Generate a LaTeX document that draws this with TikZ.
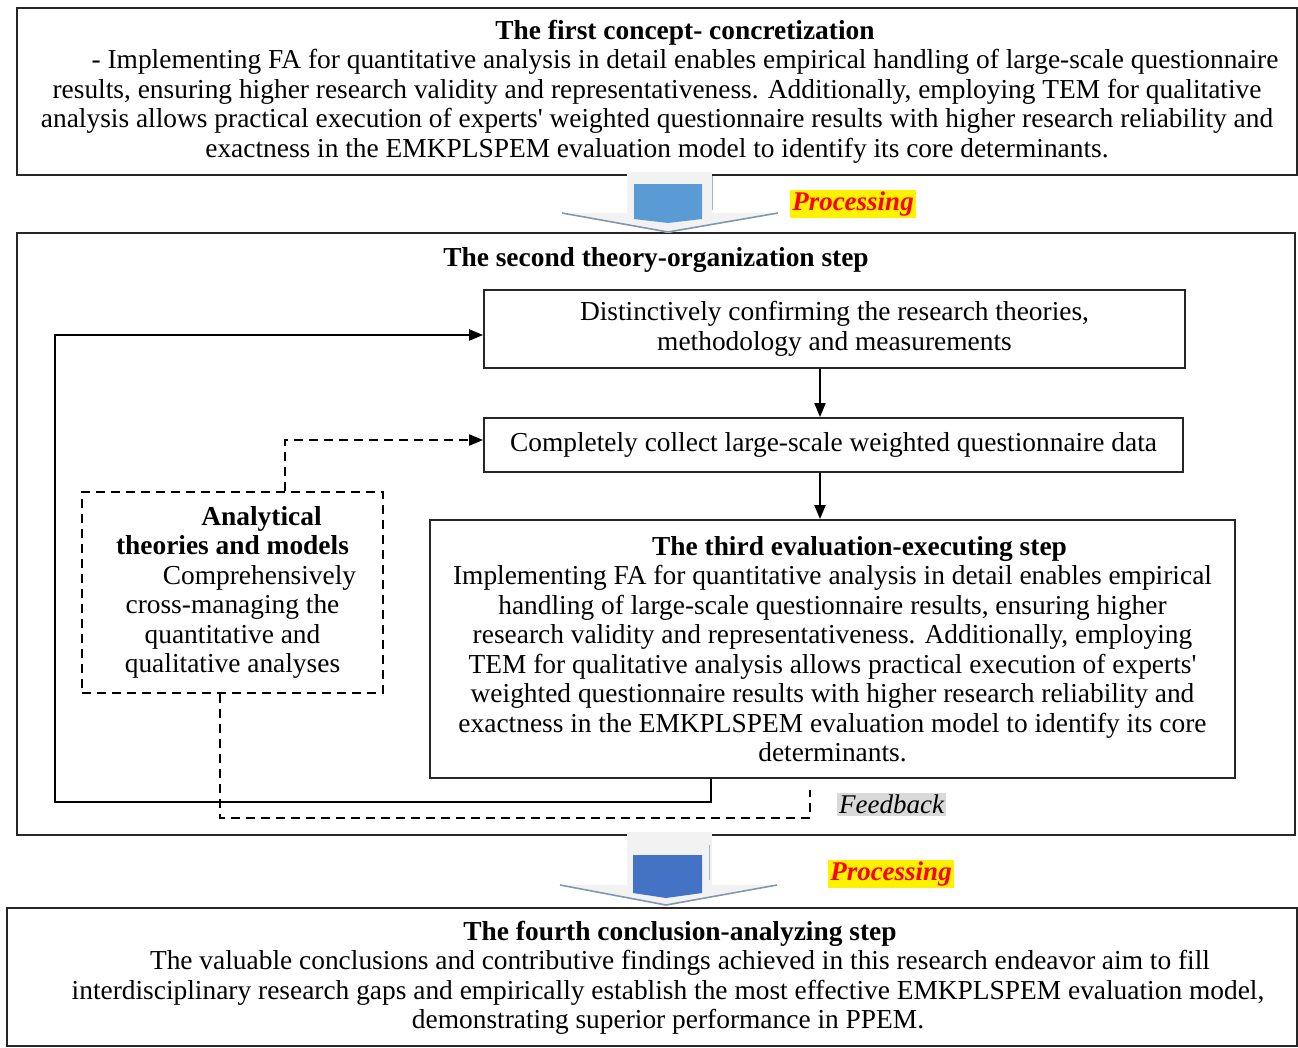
\documentclass[tikz,border=0pt]{standalone}
\usepackage{fontspec}
\setmainfont{Liberation Serif}
\usetikzlibrary{arrows.meta,calc}
\definecolor{blueA}{HTML}{5B9BD5}
\definecolor{blueB}{HTML}{4472C4}
\definecolor{wingc}{HTML}{8497B0}
\definecolor{shaftc}{HTML}{F2F2F2}
\definecolor{fbgray}{HTML}{D9D9D9}
\begin{document}
\begin{tikzpicture}[x=1pt,y=-1pt,
  every node/.style={font=\fontsize{27.4}{29.5}\selectfont, inner sep=0pt, text=black},
  box/.style={draw=black!85, line width=1.8pt, rectangle},
  dbox/.style={draw=black, line width=2pt, dash pattern=on 9pt off 6pt, rectangle},
  conn/.style={line width=2pt, -{Triangle[length=14pt,width=11pt]}},
  dconn/.style={line width=2pt, dash pattern=on 9pt off 6pt, -{Triangle[length=14pt,width=11pt]}},
  dline/.style={line width=2pt, dash pattern=on 9pt off 6pt},
  proc/.style={fill=yellow, text=red, inner sep=2pt, font=\fontsize{27}{29.5}\selectfont\bfseries\itshape},
  fbl/.style={fill=fbgray, inner sep=2pt, font=\fontsize{27}{29.5}\selectfont\itshape},
]
\useasboundingbox[fill=white] (0,0) rectangle (1298,1047);

% first box
\node[box, minimum width=1280pt, minimum height=167pt, align=center] (first) at (657,91.5)
 {\hspace*{56pt}\textbf{The first concept- concretization}\\
  \hspace*{56pt}- Implementing FA for quantitative analysis in detail enables empirical handling of large-scale questionnaire\\
  results, ensuring higher research validity and representativeness. Additionally, employing TEM for qualitative\\
  analysis allows practical execution of experts\textquotesingle{} weighted questionnaire results with higher research reliability and\\
  exactness in the EMKPLSPEM evaluation model to identify its core determinants.};

% second big box
\node[box, minimum width=1278pt, minimum height=602pt] (second) at (656,534) {};
\node[font=\fontsize{27.4}{29.5}\selectfont\bfseries] (secondtitle) at (656,260) {The second theory-organization step};

\node[box, minimum width=701pt, minimum height=78pt, align=center] (dist) at (834.5,329)
 {Distinctively confirming the research theories,\\ methodology and measurements};

\node[box, minimum width=699pt, minimum height=54pt] (collect) at (833.5,445)
 {Completely collect large-scale weighted questionnaire data};

\node[box, minimum width=805pt, minimum height=258pt, align=center] (third) at (832.5,649)
 {\hspace*{54pt}\textbf{The third evaluation-executing step}\\
  Implementing FA for quantitative analysis in detail enables empirical\\
  handling of large-scale questionnaire results, ensuring higher\\
  research validity and representativeness. Additionally, employing\\
  TEM for qualitative analysis allows practical execution of experts\textquotesingle\\
  weighted questionnaire results with higher research reliability and\\
  exactness in the EMKPLSPEM evaluation model to identify its core\\
  determinants.};

\node[dbox, minimum width=301pt, minimum height=201pt, align=center] (ana) at (232.5,592.5)
 {\hspace*{58pt}\textbf{Analytical}\\
  \textbf{theories and models}\\
  \hspace*{54pt}Comprehensively\\
  cross-managing the\\
  quantitative and\\
  qualitative analyses};

% fourth box
\node[box, minimum width=1290pt, minimum height=138pt] (fourth) at (652,977) {};
\node[align=center] (fourthtext) at (668,978)
 {\hspace*{24pt}\textbf{The fourth conclusion-analyzing step}\\
  \hspace*{24pt}The valuable conclusions and contributive findings achieved in this research endeavor aim to fill\\
  interdisciplinary research gaps and empirically establish the most effective EMKPLSPEM evaluation model,\\
  demonstrating superior performance in PPEM.};

% vertical connectors
\coordinate (vx) at (820,0);
\draw[conn] (dist.south -| vx) -- (collect.north -| vx);
\draw[conn] (collect.south -| vx) -- (third.north -| vx);

% solid feedback loop
\coordinate (fbR) at (711,802);
\coordinate (fbL) at (55,802);
\coordinate (fbT) at (55,335);
\draw[conn] (third.south -| fbR) -- (fbR) -- (fbL) -- (fbT) -- (fbT -| dist.west);

% dashed connectors
\coordinate (dA) at (285,440);
\draw[dconn] (ana.north -| dA) -- (dA) -- (dA -| collect.west);
\coordinate (dB) at (220,818);
\coordinate (dC) at (810,818);
\coordinate (dD) at (810,790);
\draw[dline] (ana.south -| dB) -- (dB) -- (dC) -- (dD);

\node[fbl] (fb) at (891.5,804) {Feedback};

% processing arrow 1
\fill[shaftc] (627,172) rectangle (712,213);
\fill[shaftc] (562,213) -- (778,213) -- (668,233) -- cycle;
\draw[wingc, line width=1.6pt] (562,213) -- (668,232) -- (778,213);
\draw[wingc!70, line width=1pt] (712,176) -- (712,210);
\fill[blueA] (634,184) -- (702,184) -- (702,219) -- (668,223) -- (634,219) -- cycle;
\node[proc] (proc1) at (853,204) {Processing};

% processing arrow 2
\fill[shaftc] (627,832) rectangle (712,885);
\fill[shaftc] (560,885) -- (777,885) -- (666,906) -- cycle;
\draw[wingc, line width=1.6pt] (560,885) -- (666,905) -- (777,885);
\draw[wingc!70, line width=1pt] (709,845) -- (709,880);
\fill[blueB] (633,855) -- (702,855) -- (702,893) -- (666,898) -- (633,893) -- cycle;
\node[proc] (proc2) at (891,874) {Processing};
\end{tikzpicture}
\end{document}
